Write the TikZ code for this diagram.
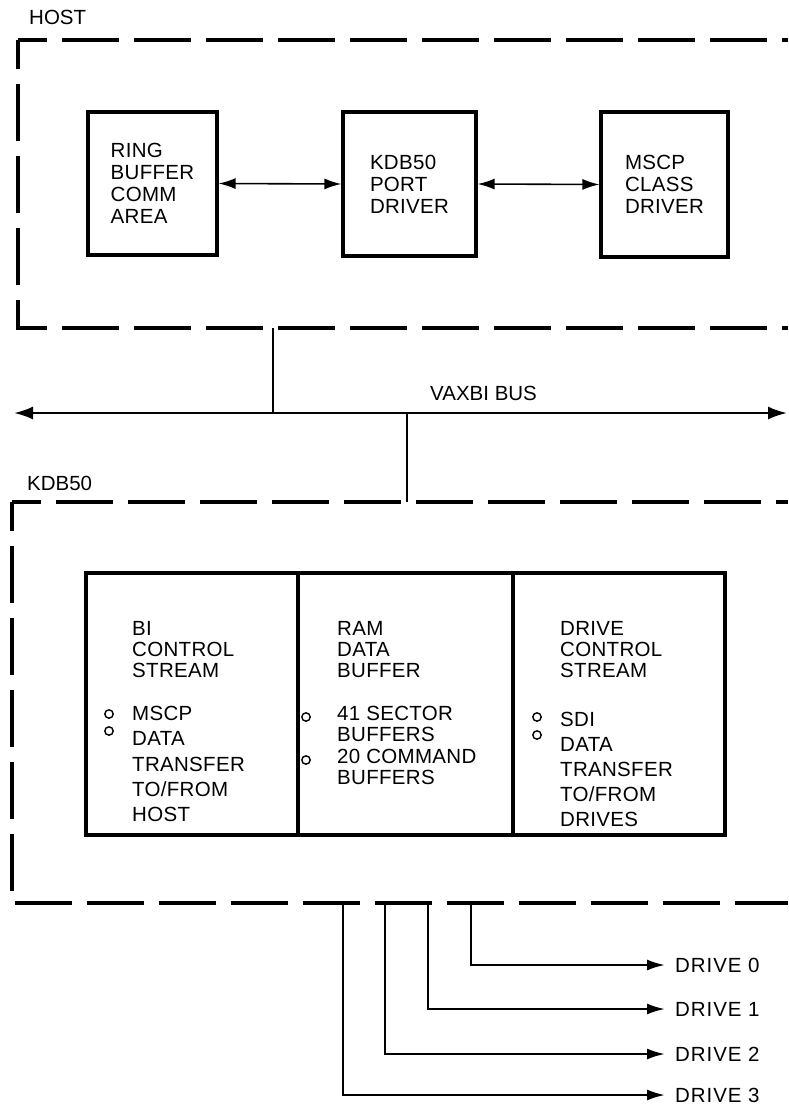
\documentclass[tikz,border=0pt]{standalone}
\usepackage{fontspec}
\setmainfont{Liberation Sans}
\newfontfamily\boxfont{Liberation Sans}[LetterSpace=1.5]
\newfontfamily\drvfont{Liberation Sans}[LetterSpace=4.5]
\usetikzlibrary{arrows.meta}
\begin{document}
\begin{tikzpicture}[x=1pt,y=-1pt,
  dashbox/.style={line width=3.4pt, dash pattern=on 57pt off 15pt, dash phase=28pt},
  hostblock/.style={draw, line width=3.2pt, inner sep=0pt, align=left,
    font=\boxfont\fontsize{20.5}{22}\selectfont},
  colbox/.style={draw, line width=3.2pt, inner sep=0pt, minimum height=262pt},
  headtext/.style={inner sep=0pt, anchor=north west, align=left,
    font=\boxfont\fontsize{20.5}{21}\selectfont},
  itemtext/.style={inner sep=0pt, anchor=north west, align=left,
    font=\boxfont\fontsize{20.5}{#1}\selectfont},
  bulletmark/.style={line width=1.4pt},
  link/.style={line width=1.6pt, {Latex[length=17pt,width=11pt]}-{Latex[length=17pt,width=11pt]}},
  busline/.style={line width=2.2pt, {Latex[length=19pt,width=13pt]}-{Latex[length=19pt,width=13pt]}},
  drop/.style={line width=1.6pt},
  drvline/.style={line width=2.2pt, -{Latex[length=18pt,width=11pt]}},
  lbl/.style={inner sep=0pt, anchor=base west, font=\fontsize{20.5}{24}\selectfont},
  drvlbl/.style={anchor=west, inner xsep=10pt, inner ysep=0pt, font=\drvfont\fontsize{20.5}{24}\selectfont}
]
\useasboundingbox (0,0) rectangle (788,1107);

% ---------------- HOST ----------------
\node[lbl] (hostlbl) at (29,25) {HOST};
\coordinate (hostTL) at (18,40);
\coordinate (hostTR) at (788,40);
\coordinate (hostBL) at (18,328);
\coordinate (hostBR) at (788,328);
\draw[dashbox] (hostTL) -- (hostTR);
\draw[dashbox] (hostTL) -- (hostBL) -- (hostBR);

\node[hostblock, minimum width=129pt, minimum height=143pt] (ring) at (152.5,183.5) {RING\\BUFFER\\COMM\\AREA};
\node[hostblock, minimum width=133pt, minimum height=144pt] (port) at (409.5,184) {KDB50\\PORT\\DRIVER};
\node[hostblock, minimum width=127pt, minimum height=145pt] (mscp) at (664.5,184.5) {MSCP\\CLASS\\DRIVER};
\draw[link] (ring.east) -- (port.west);
\draw[link] (port.east) -- (mscp.west);

% ---------------- BUS ----------------
\coordinate (busL) at (14,413);
\coordinate (busR) at (787,413);
\draw[busline] (busL) -- (busR);
\node[lbl] (buslbl) at (430,400) {VAXBI BUS};
\coordinate (hostDrop) at (273,328);
\draw[drop] (hostDrop) -- (hostDrop |- busL);

% ---------------- KDB50 ----------------
\node[lbl] (kdblbl) at (27,490) {KDB50};
\coordinate (kdbTL) at (12,502);
\coordinate (kdbTR) at (788,502);
\coordinate (kdbBL) at (12,903);
\coordinate (kdbBR) at (788,903);
\draw[dashbox] (kdbTL) -- (kdbTR);
\draw[dashbox] (kdbTL) -- (kdbBL) -- (kdbBR);
\coordinate (kdbDrop) at (407,502);
\draw[drop] (kdbDrop |- busL) -- (kdbDrop);

\node[colbox, minimum width=212pt] (bi) at (192,704) {};
\node[colbox, minimum width=215pt] (ram) at (405.5,704) {};
\node[colbox, minimum width=212pt] (drv) at (619,704) {};

\node[headtext] (bihead) at (132,621) {BI\\CONTROL\\STREAM};
\node[itemtext=25.3] (biitems) at (132,706) {MSCP\\DATA\\TRANSFER\\TO/FROM\\HOST};
\draw[bulletmark] (109,714) circle (4.2);
\draw[bulletmark] (109,731) circle (4.2);

\node[headtext] (ramhead) at (337,621) {RAM\\DATA\\BUFFER};
\node[itemtext=21.3] (ramitems) at (337,706) {41 SECTOR\\BUFFERS\\20 COMMAND\\BUFFERS};
\draw[bulletmark] (306,717) circle (4.2);
\draw[bulletmark] (306,760) circle (4.2);

\node[headtext] (drvhead) at (560,621) {DRIVE\\CONTROL\\STREAM};
\node[itemtext=25] (drvitems) at (560,712) {SDI\\DATA\\TRANSFER\\TO/FROM\\DRIVES};
\draw[bulletmark] (537,717) circle (4.2);
\draw[bulletmark] (537,735) circle (4.2);

% ---------------- DRIVES ----------------
\coordinate (d0) at (471,903);
\coordinate (d1) at (428,903);
\coordinate (d2) at (385,903);
\coordinate (d3) at (343,903);
\node[drvlbl] (drive0) at (665,965) {DRIVE 0};
\node[drvlbl] (drive1) at (665,1009) {DRIVE 1};
\node[drvlbl] (drive2) at (665,1054) {DRIVE 2};
\node[drvlbl] (drive3) at (665,1095) {DRIVE 3};
\draw[drvline] (d0) |- (drive0.west);
\draw[drvline] (d1) |- (drive1.west);
\draw[drvline] (d2) |- (drive2.west);
\draw[drvline] (d3) |- (drive3.west);
\end{tikzpicture}
\end{document}
